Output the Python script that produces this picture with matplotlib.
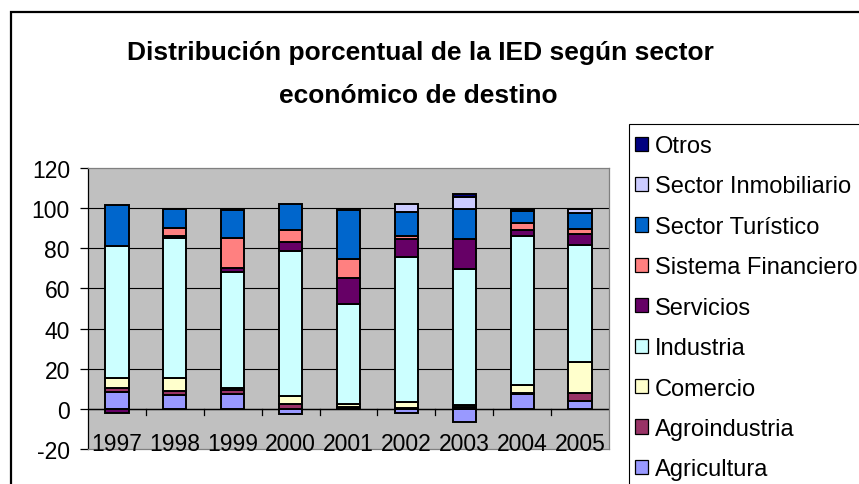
import numpy as np
import matplotlib
matplotlib.use("Agg")
import matplotlib.pyplot as plt
from matplotlib.patches import Patch, Rectangle

plt.rcParams['font.family'] = ['Liberation Sans', 'DejaVu Sans']
plt.rcParams['axes.unicode_minus'] = False

# --- datos ---
years = ['1997', '1998', '1999', '2000', '2001', '2002', '2003', '2004', '2005']
sectors = ['Agricultura', 'Agroindustria', 'Comercio', 'Industria', 'Servicios',
           'Sistema Financiero', 'Sector Turístico', 'Sector Inmobiliario', 'Otros']

agricultura = [8.4, 6.7, 7.5, -2.7, 0.5, -2.0, -6.7, 7.5, 3.7]
agroindustria = [2.0, 2.0, 1.7, 2.5, 0.5, 0.5, 1.0, 0.5, 4.2]
comercio = [5.0, 6.5, 1.0, 4.0, 1.5, 3.0, 1.0, 3.7, 15.2]
industria = [65.8, 69.8, 57.8, 72.3, 49.6, 72.0, 67.7, 74.2, 58.3]
servicios = [-2.0, 1.3, 2.0, 4.2, 12.9, 9.2, 14.7, 3.0, 5.7]
financiero = [0.0, 3.7, 15.2, 6.3, 9.5, 1.5, 0.0, 3.8, 2.7]
turistico = [20.2, 9.7, 13.7, 12.9, 24.4, 11.7, 15.4, 5.7, 7.9]
inmobiliario = [0.0, 0.0, 0.0, 0.0, 0.0, 4.2, 5.8, 0.0, 1.8]
otros = [0.0, 0.0, 0.0, 0.0, 0.0, 0.0, 1.2, 1.3, 0.0]

series = [agricultura, agroindustria, comercio, industria, servicios,
          financiero, turistico, inmobiliario, otros]
colors = ['#9999FF', '#993366', '#FFFFCC', '#CCFFFF', '#660066',
          '#FF8080', '#0066CC', '#CCCCFF', '#000080']

W, H = 859, 485
fig = plt.figure(figsize=(W / 100, H / 100), dpi=100)

def fx(px):
    return px / W

def fy(py):
    return 1 - py / H

# marco exterior del grafico
fig.add_artist(Rectangle((fx(11), fy(900)), fx(1000), fy(13) - fy(900),
                         transform=fig.transFigure, fill=False,
                         edgecolor='black', linewidth=1.6))

ax = fig.add_axes([fx(88), fy(450), fx(609 - 88), fy(169) - fy(450)])
ax.set_facecolor('#C0C0C0')

x = np.arange(len(years))
pos_base = np.zeros(len(years))
neg_base = np.zeros(len(years))
for vals, col in zip(series, colors):
    v = np.array(vals)
    bottom = np.where(v >= 0, pos_base, neg_base)
    lw = [1.4 if val != 0 else 0 for val in v]
    ax.bar(x, v, width=0.4, bottom=bottom, color=col, edgecolor='black',
           linewidth=lw, zorder=3)
    pos_base = pos_base + np.where(v > 0, v, 0)
    neg_base = neg_base + np.where(v < 0, v, 0)

ax.set_xlim(-0.5, len(years) - 0.5)
ax.set_ylim(-20, 120)

for yv in range(0, 120, 20):
    ax.axhline(yv, color='black', linewidth=0.8, zorder=1)

for side in ['top', 'right', 'bottom']:
    ax.spines[side].set_color('#808080')
    ax.spines[side].set_linewidth(0.9)
ax.spines['left'].set_color('black')
ax.spines['left'].set_linewidth(0.9)

# eje x en cero, marcas entre categorias
ax.axhline(0, color='black', linewidth=1.0, zorder=2)
ax.set_xticks([])
for xb in np.arange(0.5, len(years) - 0.5, 1.0):
    ax.plot([xb, xb], [0, -3], color='black', linewidth=0.9, zorder=2, clip_on=False)
for xi, yr in zip(x, years):
    ax.text(xi, -17.2, yr, ha='center', va='center', fontsize=16.5, zorder=4)

ax.set_yticks(range(-20, 121, 20))
ax.tick_params(axis='y', length=6, width=0.9, pad=7, labelsize=16.5)

fig.text(fx(420), fy(53), 'Distribución porcentual de la IED según sector',
         ha='center', va='center', fontsize=19, fontweight='bold')
fig.text(fx(418), fy(96), 'económico de destino',
         ha='center', va='center', fontsize=19, fontweight='bold')

# leyenda
fig.add_artist(Rectangle((fx(629), fy(900)), fx(1000), fy(125) - fy(900),
                         transform=fig.transFigure, fill=False,
                         edgecolor='black', linewidth=0.8))
handles = [Patch(facecolor=c, edgecolor='black', linewidth=0.9, label=s)
           for s, c in zip(sectors, colors)][::-1]
fig.legend(handles=handles, loc='upper left', bbox_to_anchor=(fx(635), fy(136)),
           frameon=False, fontsize=17, handlelength=0.55, handleheight=0.55,
           handletextpad=0.3, labelspacing=0.78, borderaxespad=0, borderpad=0)

fig.savefig('out.png', dpi=100)
